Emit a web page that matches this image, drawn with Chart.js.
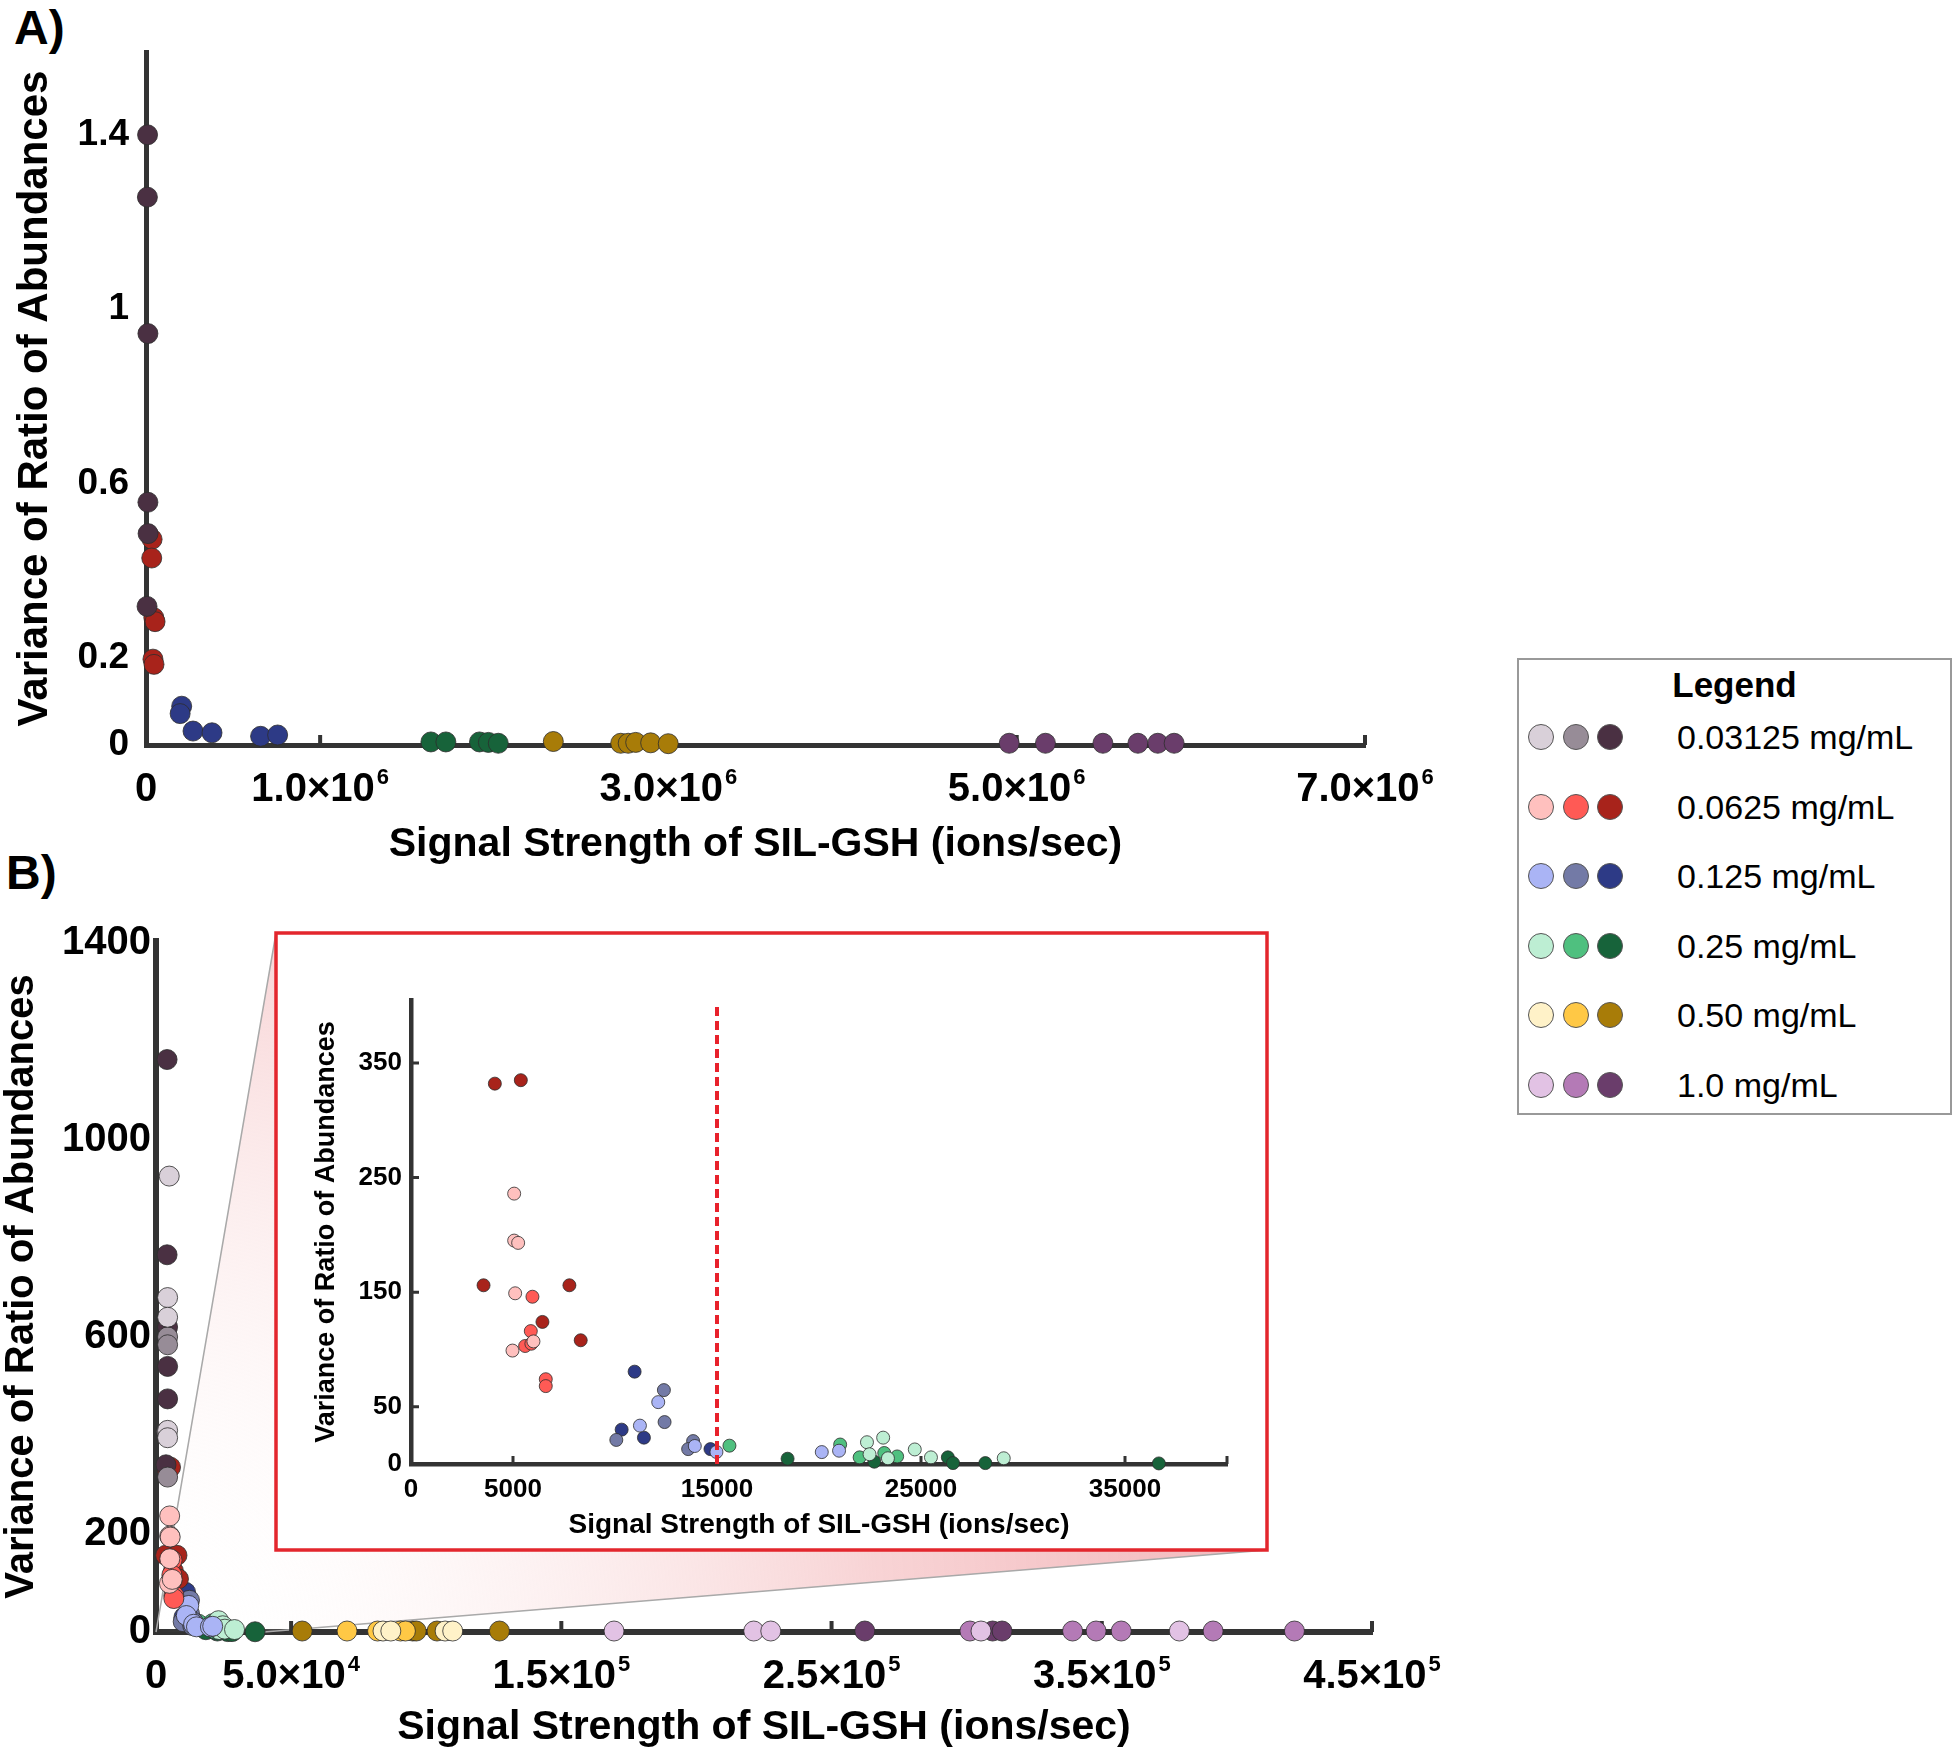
<!DOCTYPE html>
<html lang="en">
<head>
  <meta charset="UTF-8" />
  <title>Variance of Ratio of Abundances vs Signal Strength of SIL-GSH</title>
  <script src="https://cdn.jsdelivr.net/npm/chart.js"></script>
  <style>
    body { margin: 0; background: #fff; font-family: "Liberation Sans", Arial, sans-serif; color: #000; }
    #page { position: relative; width: 1958px; height: 1755px; overflow: hidden; }
    canvas, .abs { position: absolute; }
    #chartA { left: 0; top: 0; }
    #chartB { left: 0; top: 870px; }
    #inset { left: 300px; top: 960px; }
    .panel { font-weight: bold; font-size: 48px; line-height: 1; }
    #legend { left: 1517px; top: 658px; width: 431px; height: 453px; border: 2px solid #999; background: #fff; }
    #legend .title { position: absolute; left: 0; width: 100%; top: 5px; text-align: center; font-weight: bold; font-size: 35px; }
    #legend .dot { position: absolute; width: 24px; height: 24px; border-radius: 50%; border: 1.5px solid #555; }
    #legend .lab { position: absolute; left: 158px; font-size: 34px; line-height: 40px; }
  </style>
</head>
<body>
<div id="page">
  <div class="abs panel" style="left:14px; top:4px;">A)</div>
  <div class="abs panel" style="left:6px; top:849px;">B)</div>
  <canvas id="chartA" width="1460" height="870"></canvas>
  <canvas id="chartB" width="1460" height="885"></canvas>
  <canvas id="inset" width="960" height="585"></canvas>
  <div id="legend" class="abs"><div class="title">Legend</div></div>
</div>

<script>
  const AXIS = '#333333';
  const FONT = "'Liberation Sans', Arial, Helvetica, sans-serif";

  // concentrations and their three shades (light, mid, dark)
  const CONC_LABELS = ['0.03125 mg/mL', '0.0625 mg/mL', '0.125 mg/mL', '0.25 mg/mL', '0.50 mg/mL', '1.0 mg/mL'];
  const SHADES = [
    ['#d9d0d9', '#978c97', '#4a3042'],
    ['#ffc0be', '#ff5a55', '#a8231b'],
    ['#aab4f5', '#737aa6', '#2d3a86'],
    ['#bdeed3', '#4fc07f', '#17633a'],
    ['#fff2c8', '#ffc845', '#a87c08'],
    ['#e2c2e4', '#b47ab6', '#6a3d6b']
  ];

  // ---- Panel A : [signal (ions/sec), variance] ----
  const A_C03125 = [[9000, 1.40], [8000, 1.257], [11000, 0.944], [11000, 0.557], [12000, 0.485], [6000, 0.318]];
  const A_C0625 = [[35000, 0.472], [33000, 0.429], [45000, 0.292], [52000, 0.283], [40000, 0.197], [46000, 0.185]];
  const A_C125 = [[205000, 0.089], [196000, 0.072], [270000, 0.032], [379000, 0.028], [658000, 0.020], [756000, 0.023]];
  const A_C25 = [[1636000, 0.007], [1722000, 0.007], [1915000, 0.007], [1966000, 0.006], [2023000, 0.004]];
  const A_C50 = [[2339000, 0.008], [2726000, 0.004], [2769000, 0.004], [2812000, 0.006], [2898000, 0.005], [2999000, 0.003]];
  const A_C10 = [[4957000, 0.004], [5165000, 0.004], [5495000, 0.004], [5696000, 0.004], [5810000, 0.004], [5904000, 0.004]];

  const A_XTICKS = [0, 1e6, 3e6, 5e6, 7e6];
  const A_XLABELS = ['0', '1.0×10^6', '3.0×10^6', '5.0×10^6', '7.0×10^6'];
  const A_YTICKS = [0, 0.2, 0.6, 1, 1.4];
  const A_YLABELS = ['0', '0.2', '0.6', '1', '1.4'];

  // ---- Panel B (and inset) : light / mid / dark replicates ----
  const B_C03125_L = [[4900, 927], [4300, 680], [4300, 640], [4300, 410], [4300, 395]];
  const B_C03125_M = [[4300, 600], [4300, 584], [3900, 408], [4300, 315]];
  const B_C03125_D = [[4100, 1164], [4100, 767], [4300, 620], [4300, 540], [4300, 474], [3700, 340]];

  const B_C0625_L = [[5057, 236], [5057, 195], [5252, 193], [5106, 149], [4975, 99], [6003, 107]];
  const B_C0625_M = [[5953, 146], [5872, 116], [5595, 103], [6606, 74], [6606, 68], [5900, 105]];
  const B_C0625_D = [[4110, 332], [5383, 335], [3556, 156], [7765, 156], [6443, 124], [8319, 108]];

  const B_C125_L = [[12120, 54], [11222, 33.5], [13912, 15.7], [14973, 10.5], [20136, 10.4], [20983, 11.6]];
  const B_C125_M = [[12397, 64.5], [12430, 36.6], [10064, 21], [13830, 20], [13586, 13]];
  const B_C125_D = [[10962, 80.6], [10326, 30], [11418, 23], [14680, 13]];

  const B_C25_L = [[22352, 19], [22478, 8.5], [23145, 23], [23379, 5], [24695, 12.7], [25488, 5.8], [29056, 5]];
  const B_C25_M = [[15610, 16], [21037, 17], [21992, 5.8], [23199, 9.6], [23830, 6.6]];
  const B_C25_D = [[18460, 4.6], [22712, 2], [26317, 5.8], [26569, 0.8], [28155, 0.8], [36660, 0.5]];

  const B_C50_L = [[84000, 2], [86900, 2], [107000, 2], [109800, 2]];
  const B_C50_M = [[70700, 2], [82000, 2], [90500, 2], [92300, 2]];
  const B_C50_D = [[54100, 2], [95000, 2], [96300, 2], [104000, 2], [127100, 2]];

  const B_C10_L = [[169500, 2], [221200, 2], [227500, 2], [305300, 2], [378700, 2]];
  const B_C10_M = [[301200, 2], [339200, 2], [347900, 2], [357200, 2], [391200, 2], [421300, 2]];
  const B_C10_D = [[262300, 2], [309600, 2], [313100, 2]];

  const B_XTICKS = [0, 5e4, 1.5e5, 2.5e5, 3.5e5, 4.5e5];
  const B_XLABELS = ['0', '5.0×10^4', '1.5×10^5', '2.5×10^5', '3.5×10^5', '4.5×10^5'];
  const B_YTICKS = [0, 200, 600, 1000, 1400];
  const B_YLABELS = ['0', '200', '600', '1000', '1400'];

  const IN_XTICKS = [0, 5000, 15000, 25000, 35000];
  const IN_XLABELS = ['0', '5000', '15000', '25000', '35000'];
  const IN_YTICKS = [0, 50, 150, 250, 350];
  const IN_YLABELS = ['0', '50', '150', '250', '350'];
  const IN_XMAX = 40000;
  const CUTOFF = [[15000, 0], [15000, 400]];

  // inset frame in page pixels
  const INSET_BOX = { left: 276, top: 933, right: 1267, bottom: 1550 };
  const B_TOP = 870;

  const B_SERIES = [
    [B_C03125_L, B_C03125_M, B_C03125_D],
    [B_C0625_L, B_C0625_M, B_C0625_D],
    [B_C125_L, B_C125_M, B_C125_D],
    [B_C25_L, B_C25_M, B_C25_D],
    [B_C50_L, B_C50_M, B_C50_D],
    [B_C10_L, B_C10_M, B_C10_D]
  ];

  function pts(list, color, r) {
    return {
      type: 'scatter',
      data: list.map(([x, y]) => ({ x, y })),
      backgroundColor: color,
      borderColor: 'rgba(45,45,45,0.8)',
      borderWidth: 1,
      pointRadius: r,
      pointHoverRadius: r,
      clip: false
    };
  }

  function linScale(o) {
    return {
      type: 'linear', min: o.min, max: o.max,
      border: { color: AXIS, width: o.line },
      grid: { display: false, drawTicks: false },
      afterBuildTicks: s => { s.ticks = o.ticks.map(v => ({ value: v })); },
      ticks: {
        display: o.showTicks !== false,
        autoSkip: false, maxRotation: 0, color: '#000', padding: o.pad,
        font: { family: FONT, size: o.size, weight: 'bold' },
        callback: (v, i) => o.labels[i]
      },
      title: {
        display: true, text: o.title, color: '#000', padding: o.titlePad,
        font: { family: FONT, size: o.titleSize, weight: 'bold', lineHeight: 1 }
      },
      afterFit: s => {
        s.paddingLeft = s.paddingRight = s.paddingTop = s.paddingBottom = 0;
        if (s.isHorizontal()) s.height = o.box; else s.width = o.box;
      }
    };
  }

  // short tick marks pointing into the plot
  const innerTicks = {
    id: 'innerTicks',
    beforeDatasetsDraw(chart, args, o) {
      const { ctx, scales: { x, y } } = chart;
      ctx.save();
      ctx.strokeStyle = AXIS;
      ctx.lineWidth = o.width;
      ctx.beginPath();
      (o.x || []).forEach(v => {
        const px = x.getPixelForValue(v);
        ctx.moveTo(px, y.bottom); ctx.lineTo(px, y.bottom - o.len);
      });
      (o.y || []).forEach(v => {
        const py = y.getPixelForValue(v);
        ctx.moveTo(x.left, py); ctx.lineTo(x.left + o.len, py);
      });
      ctx.stroke();
      ctx.restore();
    }
  };

  // x tick labels written as "a×10^n" with a raised exponent
  const sciLabels = {
    id: 'sciLabels',
    afterDraw(chart, args, o) {
      const { ctx, scales: { x } } = chart;
      const S = o.size, s = Math.round(S * 0.55);
      const big = `bold ${S}px ${FONT}`;
      const small = `bold ${s}px ${FONT}`;
      const cy = x.top + o.offset;          // visual centre of the digits
      const base = cy + 0.358 * S;          // baseline of the main text
      const digitTop = cy - 0.358 * S;
      const expBase = digitTop - 0.12 * S + 0.716 * s;
      ctx.save();
      ctx.fillStyle = '#000';
      ctx.textAlign = 'left';
      ctx.textBaseline = 'alphabetic';
      o.values.forEach((v, i) => {
        const [txt, exp = ''] = o.labels[i].split('^');
        ctx.font = big;
        const wb = ctx.measureText(txt).width;
        ctx.font = small;
        const we = exp ? ctx.measureText(exp).width + 2 : 0;
        const left = x.getPixelForValue(v) - (wb + we) / 2;
        ctx.font = big;
        ctx.fillText(txt, left, base);
        if (exp) {
          ctx.font = small;
          ctx.fillText(exp, left + wb + 2, expBase);
        }
      });
      ctx.restore();
    }
  };

  // pink "zoom" wedge from the origin region of B to the inset frame
  const zoomWedge = {
    id: 'zoomWedge',
    beforeDatasetsDraw(chart) {
      const { ctx, scales: { x, y } } = chart;
      const b = { left: INSET_BOX.left, top: INSET_BOX.top - B_TOP, right: INSET_BOX.right, bottom: INSET_BOX.bottom - B_TOP };
      const ox = x.getPixelForValue(0), oy = y.getPixelForValue(0);
      const ex = x.getPixelForValue(IN_XMAX);
      const R = Math.hypot(b.right - ox, b.bottom - oy);
      const g = ctx.createRadialGradient(ox, oy, 0, ox, oy, R);
      g.addColorStop(0, 'rgba(255,255,255,0)');
      g.addColorStop(0.3, 'rgba(250,225,225,0.35)');
      g.addColorStop(0.65, 'rgba(246,200,202,0.8)');
      g.addColorStop(1, 'rgba(242,180,184,0.95)');
      ctx.save();
      ctx.beginPath();
      ctx.moveTo(ox, oy); ctx.lineTo(b.left, b.top); ctx.lineTo(b.right, b.bottom); ctx.lineTo(ex, oy);
      ctx.closePath();
      ctx.fillStyle = g;
      ctx.fill();
      ctx.strokeStyle = '#a9a9a9';
      ctx.lineWidth = 1.5;
      ctx.beginPath();
      ctx.moveTo(ox, oy); ctx.lineTo(b.left, b.top);
      ctx.moveTo(ex, oy); ctx.lineTo(b.right, b.bottom);
      ctx.stroke();
      ctx.fillStyle = '#fff';
      ctx.fillRect(b.left, b.top, b.right - b.left, b.bottom - b.top);
      ctx.strokeStyle = '#e3262d';
      ctx.lineWidth = 3.5;
      ctx.strokeRect(b.left, b.top, b.right - b.left, b.bottom - b.top);
      ctx.restore();
    }
  };

  const baseOpts = {
    responsive: false,
    animation: false,
    events: [],
    plugins: { legend: { display: false }, tooltip: { enabled: false } }
  };

  // Panel A
  new Chart(document.getElementById('chartA'), {
    type: 'scatter',
    data: {
      datasets: [A_C03125, A_C0625, A_C125, A_C25, A_C50, A_C10].map((d, i) => pts(d, SHADES[i][2], 10))
    },
    options: {
      ...baseOpts,
      layout: { padding: { left: 0, top: 52, right: 95, bottom: 0 } },
      plugins: {
        ...baseOpts.plugins,
        innerTicks: { x: [1e6, 3e6, 5e6, 7e6], len: 10, width: 4 },
        sciLabels: { values: A_XTICKS, labels: A_XLABELS, size: 40, offset: 42 }
      },
      scales: {
        x: linScale({ min: 0, max: 7e6, ticks: A_XTICKS, labels: A_XLABELS, showTicks: false, line: 5, size: 40, pad: 19,
          title: 'Signal Strength of SIL-GSH (ions/sec)', titleSize: 41, titlePad: { bottom: 5 }, box: 125 }),
        y: linScale({ min: 0, max: 1.59, ticks: A_YTICKS, labels: A_YLABELS, line: 5, size: 37, pad: 17,
          title: 'Variance of Ratio of Abundances', titleSize: 42, titlePad: { top: 14 }, box: 146 })
      }
    },
    plugins: [innerTicks, sciLabels]
  });

  // Panel B
  const bSets = [];
  B_SERIES.forEach((group, gi) => group.forEach((d, si) => bSets.push(pts(d, SHADES[gi][si], 10))));
  new Chart(document.getElementById('chartB'), {
    type: 'scatter',
    data: { datasets: bSets },
    options: {
      ...baseOpts,
      layout: { padding: { left: 0, top: 71, right: 88, bottom: 0 } },
      plugins: {
        ...baseOpts.plugins,
        innerTicks: { x: [5e4, 1.5e5, 2.5e5, 3.5e5, 4.5e5], len: 11, width: 4 },
        sciLabels: { values: B_XTICKS, labels: B_XLABELS, size: 40, offset: 42 }
      },
      scales: {
        x: linScale({ min: 0, max: 4.5e5, ticks: B_XTICKS, labels: B_XLABELS, showTicks: false, line: 6, size: 40, pad: 17,
          title: 'Signal Strength of SIL-GSH (ions/sec)', titleSize: 41, titlePad: { bottom: 7 }, box: 123 }),
        y: linScale({ min: 0, max: 1405, ticks: B_YTICKS, labels: B_YLABELS, line: 6, size: 40, pad: 5,
          title: 'Variance of Ratio of Abundances', titleSize: 40, titlePad: { top: 2 }, box: 156 })
      }
    },
    plugins: [zoomWedge, innerTicks, sciLabels]
  });

  // Inset (0.0625 – 0.25 mg/mL)
  const inSets = [{
    type: 'line', data: CUTOFF.map(([x, y]) => ({ x, y })), borderColor: '#e8212b', borderWidth: 4,
    borderDash: [9, 5], pointRadius: 0, order: -1, clip: false
  }];
  [1, 2, 3].forEach(gi => B_SERIES[gi].forEach((d, si) => inSets.push(pts(d, SHADES[gi][si], 6.5))));
  new Chart(document.getElementById('inset'), {
    type: 'scatter',
    data: { datasets: inSets },
    options: {
      ...baseOpts,
      layout: { padding: { left: 0, top: 40, right: 33, bottom: 0 } },
      plugins: { ...baseOpts.plugins, innerTicks: { x: [5000, 15000, 25000, 35000, 40000], y: [50, 150, 250, 350], len: 8, width: 3 } },
      scales: {
        x: linScale({ min: 0, max: IN_XMAX, ticks: IN_XTICKS, labels: IN_XLABELS, line: 4.5, size: 26, pad: 10,
          title: 'Signal Strength of SIL-GSH (ions/sec)', titleSize: 28, titlePad: { bottom: 6 }, box: 81 }),
        y: linScale({ min: 0, max: 405, ticks: IN_YTICKS, labels: IN_YLABELS, line: 4.5, size: 26, pad: 9,
          title: 'Variance of Ratio of Abundances', titleSize: 27, titlePad: { top: 13 }, box: 111 })
      }
    },
    plugins: [innerTicks]
  });

  // legend
  const legend = document.getElementById('legend');
  CONC_LABELS.forEach((label, i) => {
    const cy = 77 + i * 69.6;
    SHADES[i].forEach((c, j) => {
      const dot = document.createElement('div');
      dot.className = 'dot';
      dot.style.left = (22 + j * 34.5 - 13) + 'px';
      dot.style.top = (cy - 13) + 'px';
      dot.style.background = c;
      legend.appendChild(dot);
    });
    const t = document.createElement('div');
    t.className = 'lab';
    t.style.top = (cy - 20) + 'px';
    t.textContent = label;
    legend.appendChild(t);
  });
</script>
</body>
</html>
